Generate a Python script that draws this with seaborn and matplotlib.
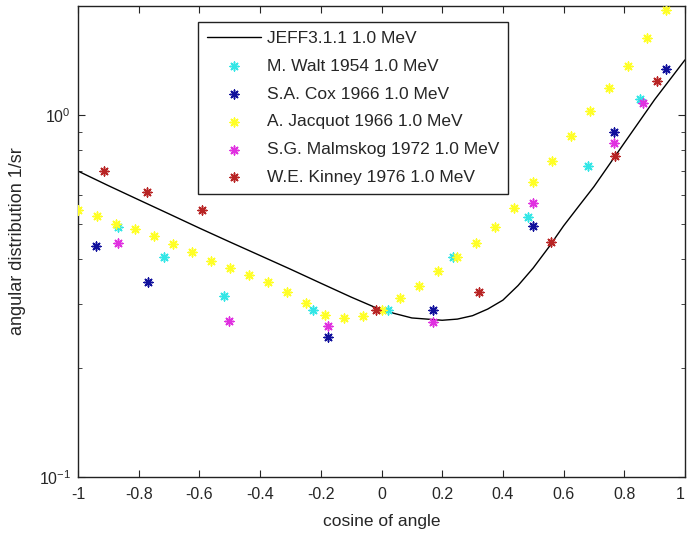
import numpy as np
import pandas as pd
import matplotlib
matplotlib.use("Agg")
import matplotlib.pyplot as plt
import matplotlib.ticker as mticker
import seaborn as sns

# JEFF3.1.1 evaluation curve
jeff_x = [-1.0, -0.9, -0.8, -0.7, -0.6, -0.5, -0.4, -0.3, -0.2, -0.1, 0.0,
          0.1, 0.2, 0.25, 0.3, 0.35, 0.4, 0.45, 0.5, 0.55, 0.6, 0.65, 0.7, 0.8, 0.9, 1.0]
jeff_y = [0.70, 0.638, 0.583, 0.533, 0.487, 0.446, 0.409, 0.375, 0.343, 0.314, 0.289,
          0.275, 0.271, 0.273, 0.279, 0.291, 0.308, 0.338, 0.378, 0.430, 0.494, 0.560,
          0.634, 0.837, 1.103, 1.42]

walt_x = [-0.867, -0.716, -0.518, -0.225, 0.020, 0.237, 0.484, 0.681, 0.852]
walt_y = [0.490, 0.406, 0.317, 0.289, 0.289, 0.406, 0.524, 0.724, 1.105]

cox_x = [-0.941, -0.770, -0.175, 0.171, 0.498, 0.766, 0.936]
cox_y = [0.435, 0.346, 0.243, 0.289, 0.495, 0.899, 1.337]

jacquot_x = [-1.0, -0.9375, -0.875, -0.8125, -0.75, -0.6875, -0.625, -0.5625,
             -0.5, -0.4375, -0.375, -0.3125, -0.25, -0.1875, -0.125, -0.0625,
             0.0, 0.0625, 0.125, 0.1875, 0.25, 0.3125, 0.375, 0.4375,
             0.5, 0.5625, 0.625, 0.6875, 0.75, 0.8125, 0.875, 0.9375]
jacquot_y = [0.546, 0.527, 0.500, 0.483, 0.463, 0.440, 0.419, 0.396,
             0.379, 0.361, 0.346, 0.325, 0.302, 0.280, 0.275, 0.279,
             0.290, 0.312, 0.337, 0.371, 0.404, 0.442, 0.490, 0.555,
             0.655, 0.746, 0.877, 1.026, 1.19, 1.368, 1.629, 1.95]

malm_x = [-0.867, -0.501, -0.177, 0.171, 0.498, 0.766, 0.863]
malm_y = [0.442, 0.270, 0.262, 0.268, 0.573, 0.839, 1.077]

kinney_x = [-0.914, -0.774, -0.590, -0.019, 0.321, 0.557, 0.769, 0.907]
kinney_y = [0.702, 0.612, 0.546, 0.289, 0.325, 0.447, 0.770, 1.244]

labels = ["JEFF3.1.1 1.0 MeV", "M. Walt 1954 1.0 MeV", "S.A. Cox 1966 1.0 MeV",
          "A. Jacquot 1966 1.0 MeV", "S.G. Malmskog 1972 1.0 MeV", "W.E. Kinney 1976 1.0 MeV"]
colors = ["#000000", "#33E6E6", "#10109C", "#FFFF26", "#E030E0", "#B82424"]

xticks = [-1, -0.8, -0.6, -0.4, -0.2, 0, 0.2, 0.4, 0.6, 0.8, 1]

sns.set_style("ticks")
plt.rcParams['font.family'] = ['Liberation Sans', 'DejaVu Sans']
plt.rcParams['mathtext.fontset'] = 'custom'
plt.rcParams['mathtext.rm'] = 'Liberation Sans'

fig = plt.figure(figsize=(6.87, 5.33), dpi=100)
ax = fig.add_axes([78/687, 56/533, 607/687, 471/533])

sns.lineplot(x=jeff_x, y=jeff_y, ax=ax, color=colors[0], linewidth=1.0,
             label=labels[0], sort=False)

series = [(walt_x, walt_y), (cox_x, cox_y), (jacquot_x, jacquot_y),
          (malm_x, malm_y), (kinney_x, kinney_y)]
for (sx, sy), lab, col in zip(series, labels[1:], colors[1:]):
    sns.scatterplot(x=sx, y=sy, ax=ax, marker=(8, 2, 0), s=40, color=col,
                    edgecolor=col, linewidth=1.1, label=lab, zorder=3)

ax.set_yscale("log")
ax.set_xlim(-1, 1)
ax.set_ylim(0.1, 2.0)
ax.set_xticks(xticks)
ax.xaxis.set_major_formatter(mticker.FuncFormatter(lambda v, p: "%g" % round(v, 2)))
ax.tick_params(which="both", direction="in", top=True, right=True, labelsize=11.5)
ax.tick_params(axis="x", which="major", length=5, pad=7)
ax.tick_params(axis="y", which="major", length=5, pad=5)
ax.tick_params(which="minor", length=3)
ax.yaxis.set_minor_formatter(mticker.NullFormatter())
for sp in ax.spines.values():
    sp.set_visible(True)
    sp.set_linewidth(1.0)
    sp.set_color("#222222")

fig.canvas.draw()
xtl = ax.get_xticklabels()
xtl[-1].set_horizontalalignment("right")
xtl[-1].set_x(1.0)

ax.set_xlabel("cosine of angle", fontsize=12.5, labelpad=9)
ax.set_ylabel("angular distribution 1/sr", fontsize=13, labelpad=9)

leg = ax.legend(loc="upper left", bbox_to_anchor=(0.1977, 0.966), fontsize=12.5,
                frameon=True, fancybox=False, edgecolor="#222222", framealpha=1,
                labelspacing=0.73, handlelength=3.1, borderpad=0.5, handletextpad=0.35,
                borderaxespad=0)
leg.get_frame().set_linewidth(1.0)

fig.savefig("out.png", dpi=100)
